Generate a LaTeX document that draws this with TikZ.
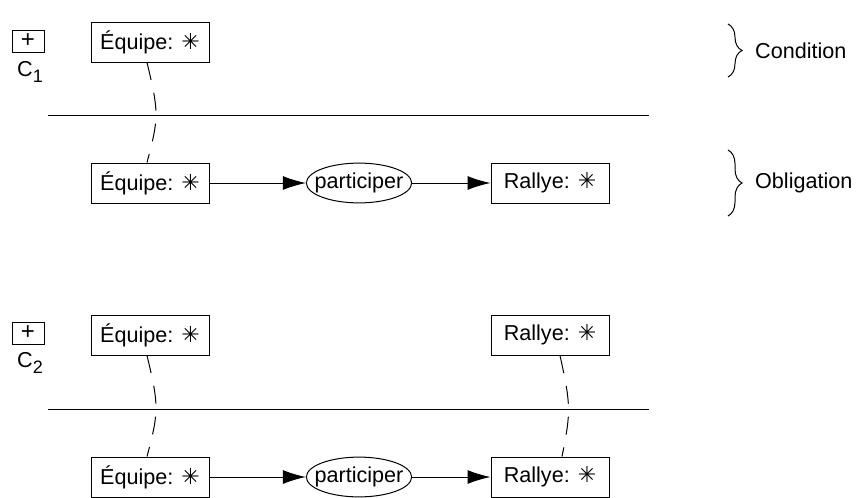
\documentclass[tikz,border=0pt]{standalone}
\usepackage{fontspec}
\setmainfont{Liberation Sans}
\newfontfamily\symfont{DejaVu Sans}
\usetikzlibrary{arrows.meta,shapes.geometric,decorations.pathreplacing}
\newcommand{\anyref}{{\symfont\fontsize{11}{12}\selectfont ✳}}
\tikzset{concept/.style = {draw, line width=.5pt, minimum height=20pt, minimum width=59pt, inner xsep=3.5pt},
         relation/.style = {draw, ellipse, line width=.5pt, inner xsep=-3.6pt, inner ysep=2pt},
         ctxbox/.style = {draw, line width=.5pt, minimum width=16pt, minimum height=11pt, inner sep=0pt},
         link/.style = {line width=.5pt, -{Latex[length=11.5pt,width=7pt]}},
         coref/.style = {line width=.5pt, dash pattern=on 9pt off 6.5pt},
         bracket/.style = {line width=.5pt, decorate, decoration={brace, amplitude=7pt}}}

\begin{document}
\begin{tikzpicture}[x=.5pt, y=-.5pt, font=\fontsize{10.8}{12}\selectfont]
      \useasboundingbox (0,0) rectangle (857,498);
      \node [ctxbox] (plus1) at (28,41) {\large +};
      \node (c1) at (30,72) {C\raisebox{-.45ex}{\small 1}};
      \node [ctxbox] (plus2) at (28,333) {\large +};
      \node (c2) at (30,363) {C\raisebox{-.45ex}{\small 2}};
      \node [concept] (eq1) at (150,42) {Équipe: \anyref};
      \node [concept] (eq2) at (150,183) {Équipe: \anyref};
      \node [relation] (pa2) at (359,183) {participer};
      \node [concept] (ra2) at (550,183) {Rallye: \anyref};
      \node [concept] (eq3) at (150,335) {Équipe: \anyref};
      \node [concept] (ra3) at (550,335) {Rallye: \anyref};
      \node [concept] (eq4) at (150,477) {Équipe: \anyref};
      \node [relation] (pa4) at (359,477) {participer};
      \node [concept] (ra4) at (550,477) {Rallye: \anyref};
      \foreach \y in {115,409}{
      \draw [line width=.5pt] (48,\y) -- (649,\y);}
      \draw [link] (eq2) -- (pa2);
      \draw [link] (pa2) -- (ra2);
      \draw [link] (eq4) -- (pa4);
      \draw [link] (pa4) -- (ra4);
      \draw [coref] ([xshift=-1.5pt]eq1.south) .. controls +(12,50) and +(12,-45) .. ([xshift=-1.5pt]eq2.north);
      \draw [coref] ([xshift=-1.5pt]eq3.south) .. controls +(12,50) and +(12,-45) .. ([xshift=-1.5pt]eq4.north);
      \draw [coref] ([xshift=5pt]ra3.south) .. controls +(11,50) and +(9,-45) .. ([xshift=6pt]ra4.north);
      \draw [bracket] (728,24) -- (728,77) node [midway, right=10pt] (cond) {Condition};
      \draw [bracket] (728,150) -- (728,216) node [midway, right=10pt] (oblig) {Obligation};
    \end{tikzpicture}
\end{document}
